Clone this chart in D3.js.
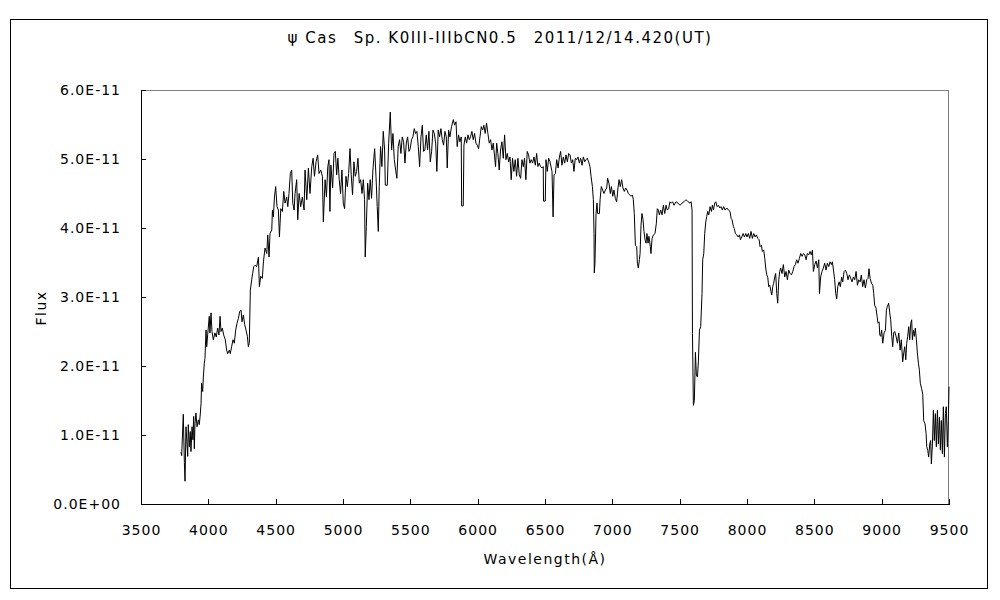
<!DOCTYPE html>
<html>
<head>
<meta charset="utf-8">
<script src="https://cdn.jsdelivr.net/npm/d3@7"></script>
<style>
body { margin: 0; background: #fff; }
text { font-family: "DejaVu Sans", sans-serif; fill: #000; }
.axis text { font-size: 14px; letter-spacing: 1px; }
.axis line, .axis path { stroke: #000; shape-rendering: crispEdges; }
.label { font-size: 14px; letter-spacing: 1.5px; }
</style>
</head>
<body>
<div id="chart"></div>
<script>
//------------------------------ data (flux in units of 1E-11) ------------------------------
var title = "\u03c8 Cas\u3000Sp. K0III-IIIbCN0.5\u30002011/12/14.420(UT)";
var xTicks = [3500, 4000, 4500, 5000, 5500, 6000, 6500, 7000, 7500, 8000, 8500, 9000, 9500];
var yTicks = [0, 1, 2, 3, 4, 5, 6];

var wavelength = [
3797,3802,3814,3822,3827,3834,3847,3851,3859,3866,3871,3879,3886,3891,3896,3901,3908,3916,3926,3933,
3941,3946,3950,3958,3963,3970,3975,3983,3988,3995,4007,4012,4020,4027,4037,4049,4059,4069,4079,4087,
4094,4104,4114,4126,4136,4144,4156,4163,4173,4183,4193,4203,4213,4223,4233,4243,4250,4260,4270,4280,
4290,4297,4304,4312,4322,4329,4337,4347,4359,4372,4379,4389,4401,4409,4421,4434,4441,4451,4458,4471,
4476,4483,4491,4500,4510,4520,4528,4538,4550,4560,4570,4582,4590,4599,4609,4619,4627,4637,4644,4656,
4664,4674,4686,4698,4711,4718,4731,4743,4755,4768,4778,4788,4800,4812,4822,4835,4847,4854,4867,4877,
4887,4896,4903,4910,4923,4933,4943,4953,4962,4972,4982,4992,5002,5012,5022,5032,5042,5052,5061,5071,
5081,5091,5101,5111,5121,5131,5141,5151,5160,5165,5173,5183,5193,5202,5212,5222,5235,5245,5254,5262,
5269,5279,5289,5299,5309,5314,5329,5339,5351,5361,5371,5381,5391,5400,5410,5420,5430,5440,5450,5460,
5470,5480,5490,5499,5509,5519,5529,5539,5549,5559,5569,5579,5589,5598,5608,5618,5628,5638,5648,5658,
5668,5678,5688,5697,5707,5717,5727,5737,5747,5757,5767,5774,5784,5794,5806,5819,5829,5839,5848,5858,
5868,5878,5881,5893,5898,5908,5918,5928,5938,5947,5957,5967,5977,5987,5997,6007,6017,6027,6037,6046,
6056,6066,6076,6086,6096,6106,6116,6126,6133,6141,6150,6160,6170,6180,6190,6200,6210,6220,6230,6240,
6249,6259,6269,6279,6289,6299,6309,6319,6329,6339,6348,6358,6368,6378,6388,6398,6408,6418,6428,6438,
6447,6457,6467,6477,6487,6489,6502,6507,6517,6527,6537,6552,6560,6567,6577,6587,6597,6607,6616,6626,
6636,6646,6656,6666,6676,6686,6696,6706,6715,6725,6735,6745,6755,6765,6775,6785,6795,6805,6814,6824,
6834,6842,6852,6859,6864,6866,6871,6879,6886,6891,6904,6909,6918,6928,6938,6948,6958,6965,6975,6985,
6993,7003,7012,7022,7032,7042,7050,7059,7069,7079,7089,7099,7109,7119,7129,7139,7149,7156,7163,7171,
7181,7186,7193,7201,7206,7213,7220,7228,7235,7243,7250,7257,7265,7272,7282,7287,7295,7305,7317,7327,
7334,7342,7349,7359,7369,7379,7389,7399,7408,7418,7428,7438,7448,7458,7473,7488,7503,7517,7532,7547,
7562,7577,7585,7592,7595,7602,7609,7617,7624,7632,7639,7647,7656,7666,7671,7679,7686,7694,7701,7708,
7716,7726,7736,7743,7751,7760,7768,7778,7788,7798,7807,7817,7827,7837,7850,7862,7874,7882,7889,7899,
7906,7914,7924,7934,7944,7951,7961,7971,7981,7991,8000,8010,8020,8030,8040,8050,8060,8070,8080,8090,
8097,8107,8114,8124,8132,8139,8147,8154,8161,8169,8176,8184,8191,8198,8206,8213,8221,8228,8236,8243,
8250,8260,8270,8280,8290,8300,8310,8320,8330,8340,8349,8359,8369,8379,8389,8399,8409,8419,8429,8439,
8448,8458,8468,8478,8486,8493,8503,8513,8523,8533,8538,8547,8557,8567,8577,8587,8597,8607,8617,8627,
8634,8642,8651,8659,8666,8674,8684,8693,8703,8711,8721,8731,8741,8750,8760,8770,8780,8790,8800,8810,
8820,8830,8840,8849,8859,8869,8879,8889,8899,8906,8914,8924,8934,8941,8948,8958,8966,8973,8981,8986,
8993,9000,9008,9018,9028,9035,9042,9052,9060,9067,9075,9082,9089,9097,9107,9117,9127,9137,9146,9156,
9164,9171,9179,9186,9193,9201,9208,9216,9223,9228,9236,9243,9250,9258,9265,9273,9280,9287,9297,9305,
9312,9322,9330,9335,9342,9349,9357,9364,9369,9377,9384,9391,9399,9406,9414,9421,9429,9436,9443,9451,
9458,9466,9473,9480,9488,9495,9500
];

var flux = [
0.75,0.70,1.30,0.60,0.33,1.12,0.69,1.15,0.83,1.05,0.76,1.12,0.93,1.27,0.80,1.17,1.32,1.12,1.22,1.15,
1.32,1.46,1.75,1.63,1.84,2.04,2.11,2.52,2.28,2.45,2.72,2.48,2.77,2.50,2.38,2.48,2.42,2.55,2.45,2.72,
2.50,2.55,2.45,2.38,2.23,2.18,2.23,2.18,2.28,2.38,2.33,2.52,2.62,2.69,2.79,2.81,2.64,2.74,2.60,2.52,
2.43,2.28,2.33,3.10,3.25,3.34,3.44,3.46,3.44,3.58,3.15,3.30,3.27,3.51,3.71,3.63,3.90,3.58,3.92,3.97,
4.26,4.16,4.45,4.60,4.31,4.26,3.87,4.28,4.24,4.53,4.36,4.45,4.31,4.50,4.79,4.84,4.36,4.26,4.50,4.70,
4.12,4.50,4.31,4.45,4.26,4.84,4.41,4.87,4.50,4.89,5.01,4.75,4.96,5.06,4.79,4.84,4.75,4.09,4.70,4.45,
4.89,4.99,4.24,4.91,4.58,5.08,5.11,4.77,5.01,4.70,4.50,4.84,4.36,4.28,4.75,4.60,4.79,5.15,4.77,4.48,
4.96,4.75,4.82,5.01,4.65,4.70,4.50,4.70,4.41,3.58,4.02,4.65,4.41,4.70,4.43,4.84,5.15,4.75,4.31,3.95,
4.60,5.18,4.89,5.40,5.13,4.62,4.62,5.23,5.68,5.13,5.37,4.99,4.84,4.72,5.18,5.28,5.08,5.32,5.25,4.94,
5.23,5.32,5.11,5.15,5.28,5.32,5.44,5.37,5.40,5.18,4.89,5.32,5.49,5.11,5.13,5.35,5.13,5.40,4.96,5.11,
5.42,5.37,5.23,4.82,5.42,5.32,5.44,5.28,5.20,5.40,5.32,4.87,5.42,5.32,5.47,5.57,5.49,5.54,5.18,5.35,
5.25,5.32,4.32,4.32,5.20,5.32,5.23,5.35,5.28,5.32,5.40,5.28,5.37,5.23,5.20,5.15,5.32,5.47,5.42,5.49,
5.37,5.52,5.37,5.23,5.28,5.13,5.23,5.03,4.89,5.23,5.08,4.84,5.13,5.25,5.01,5.35,4.99,5.08,4.96,5.03,
4.70,5.01,4.82,4.99,4.75,5.01,4.77,4.72,4.99,4.89,5.01,4.70,5.11,5.06,4.94,4.99,4.94,5.03,4.91,5.08,
4.89,4.94,4.89,4.87,4.89,4.39,4.39,4.99,4.82,5.01,4.96,4.82,4.16,4.77,4.79,4.99,4.87,5.03,5.11,4.91,
5.03,4.94,5.06,4.96,5.08,5.06,4.94,4.99,4.82,5.01,4.99,5.03,4.94,5.01,4.91,5.03,4.96,4.99,5.01,4.96,
4.89,4.75,4.60,4.41,3.92,3.35,3.49,4.21,4.36,4.21,4.21,4.41,4.60,4.55,4.50,4.55,4.58,4.72,4.65,4.50,
4.60,4.46,4.55,4.43,4.38,4.58,4.70,4.60,4.70,4.58,4.53,4.58,4.55,4.50,4.48,4.46,4.48,4.41,4.21,3.75,
3.73,3.49,3.42,3.54,3.63,4.04,4.21,4.12,3.95,3.83,3.78,3.92,3.78,3.88,3.73,3.63,3.85,3.90,3.92,4.07,
4.28,4.26,4.19,4.26,4.19,4.33,4.21,4.33,4.26,4.28,4.38,4.36,4.38,4.33,4.38,4.36,4.33,4.36,4.38,4.41,
4.38,4.36,4.38,4.26,2.47,1.43,1.50,2.20,1.87,1.84,2.06,2.52,2.57,3.05,3.54,3.63,3.92,4.09,4.17,4.24,
4.19,4.31,4.24,4.33,4.26,4.36,4.38,4.31,4.33,4.29,4.31,4.26,4.31,4.26,4.29,4.26,4.24,4.14,4.12,4.02,
3.99,3.92,3.90,3.87,3.90,3.83,3.87,3.92,3.87,3.92,3.87,3.92,3.85,3.95,3.85,3.92,3.87,3.90,3.85,3.83,
3.73,3.75,3.66,3.68,3.56,3.42,3.32,3.29,3.15,3.17,3.10,3.03,3.15,3.20,3.29,3.34,3.05,2.91,3.25,3.37,
3.42,3.34,3.47,3.29,3.37,3.25,3.39,3.34,3.32,3.37,3.44,3.47,3.54,3.49,3.56,3.63,3.59,3.63,3.61,3.54,
3.63,3.61,3.66,3.61,3.68,3.37,3.47,3.52,3.42,3.54,3.05,3.29,3.37,3.42,3.49,3.39,3.49,3.44,3.51,3.47,
3.51,3.39,3.25,3.05,2.97,3.15,3.22,3.15,3.29,3.22,3.37,3.39,3.34,3.25,3.32,3.27,3.22,3.29,3.25,3.37,
3.17,3.25,3.22,3.32,3.15,3.25,3.13,3.25,3.27,3.41,3.27,3.20,3.17,3.05,2.88,2.84,2.72,2.62,2.64,2.45,
2.43,2.52,2.33,2.48,2.52,2.81,2.86,2.91,2.77,2.67,2.43,2.28,2.48,2.50,2.43,2.33,2.48,2.23,2.38,2.06,
2.19,2.28,2.09,2.33,2.43,2.57,2.38,2.62,2.67,2.38,2.52,2.43,2.55,2.38,2.19,2.04,1.94,1.75,1.67,1.59,
1.21,1.16,1.02,0.83,0.78,0.68,0.87,0.92,0.58,0.87,1.36,0.92,1.31,0.83,1.36,0.87,1.26,0.78,1.21,0.73,
1.41,0.68,1.31,1.41,0.83,1.21,1.70
];

//------------------------------ svg set up ------------------------------
var W = 1000, H = 600;
var margin = {top: 90, right: 51, bottom: 96, left: 141};
var width = W - margin.left - margin.right;
var height = H - margin.top - margin.bottom;

var svg = d3.select("#chart").append("svg")
	.attr("width", W)
	.attr("height", H);

//outer frame
svg.append("rect")
	.attr("x", 10.5).attr("y", 19.5)
	.attr("width", 977).attr("height", 569)
	.style("fill", "none").style("stroke", "#000")
	.style("shape-rendering", "crispEdges");

var g = svg.append("g")
	.attr("transform", "translate(" + margin.left + "," + margin.top + ")");

var x = d3.scaleLinear().domain([3500, 9500]).range([0, width]);
var y = d3.scaleLinear().domain([0, 6]).range([height, 0]);

//top and right border of the plot area in grey
g.append("path")
	.attr("d", "M0,0.5H" + (width - 0.5) + "V" + height)
	.style("fill", "none").style("stroke", "#808080")
	.style("shape-rendering", "crispEdges");

//------------------------------ axes ------------------------------
var xAxis = d3.axisBottom(x)
	.tickValues(xTicks)
	.tickSizeInner(-5).tickSizeOuter(0)
	.tickPadding(21)
	.tickFormat(d3.format("d"));

g.append("g")
	.attr("class", "axis")
	.attr("transform", "translate(0," + height + ")")
	.call(xAxis);

var yAxis = d3.axisLeft(y)
	.tickValues(yTicks)
	.tickSizeInner(-5).tickSizeOuter(0)
	.tickPadding(20)
	.tickFormat(function(d) { return d === 0 ? "0.0E+00" : d.toFixed(1) + "E-11"; });

g.append("g")
	.attr("class", "axis")
	.call(yAxis);

g.selectAll(".axis .domain").style("stroke", "#000");

//------------------------------ spectrum ------------------------------
var points = wavelength.map(function(w, i) { return [w, flux[i]]; });

var line = d3.line()
	.x(function(d) { return x(d[0]); })
	.y(function(d) { return y(d[1]); });

g.append("path")
	.datum(points)
	.attr("d", line)
	.style("fill", "none")
	.style("stroke", "#000")
	.style("stroke-width", 1);

//------------------------------ titles ------------------------------
svg.append("text")
	.attr("class", "label")
	.attr("x", 500).attr("y", 43)
	.attr("text-anchor", "middle")
	.style("font-size", "15px")
	.text(title);

svg.append("text")
	.attr("class", "label")
	.attr("x", margin.left + width / 2).attr("y", 564)
	.attr("text-anchor", "middle")
	.text("Wavelength(\u00c5)");

svg.append("text")
	.attr("class", "label")
	.attr("transform", "translate(46,308) rotate(-90)")
	.attr("text-anchor", "middle")
	.text("Flux");
</script>
</body>
</html>
